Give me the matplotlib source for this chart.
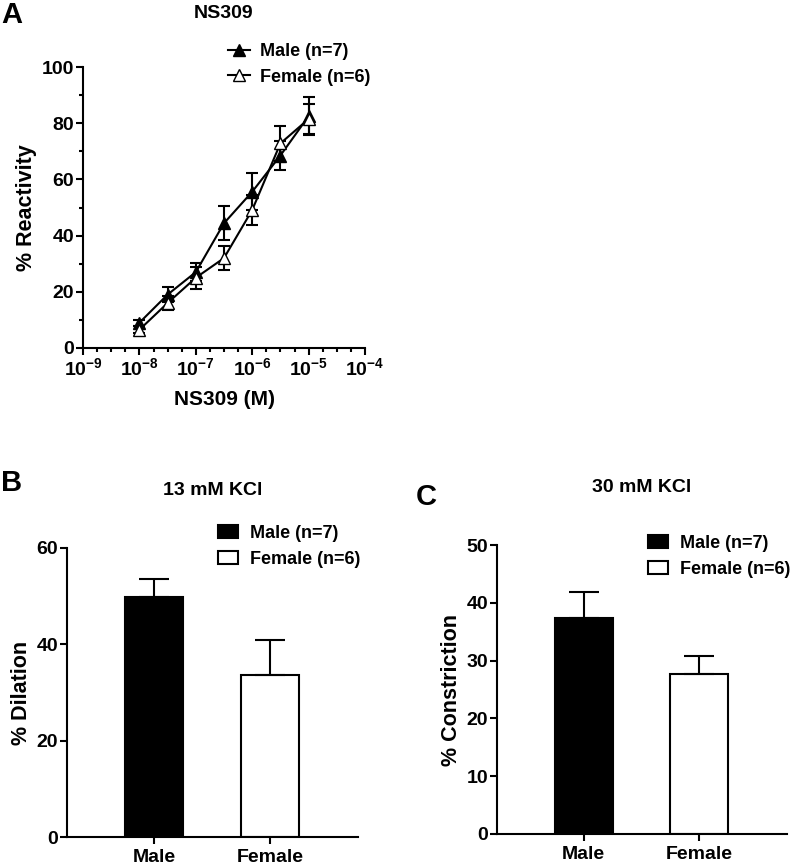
import matplotlib.pyplot as plt
from matplotlib.lines import Line2D
import numpy as np

plt.rcParams['font.family'] = 'Liberation Sans'
plt.rcParams['font.weight'] = 'bold'
plt.rcParams['mathtext.fontset'] = 'custom'
plt.rcParams['mathtext.rm'] = 'Liberation Sans:bold'
plt.rcParams['mathtext.bf'] = 'Liberation Sans:bold'
plt.rcParams['axes.linewidth'] = 1.5

# panel A: concentration-response
conc = [1e-8, 3.16e-8, 1e-7, 3.16e-7, 1e-6, 3.16e-6, 1e-5]
male_resp = [9.0, 19.0, 27.0, 44.4, 55.6, 68.5, 82.5]
male_sem = [1.0, 2.7, 3.3, 6.1, 6.5, 5.3, 6.8]
female_resp = [6.5, 16.0, 25.0, 32.0, 49.1, 72.8, 81.5]
female_sem = [1.2, 2.4, 4.0, 4.4, 5.3, 6.2, 5.5]
xtick_exp = [-9, -8, -7, -6, -5, -4]

# panels B and C
groups = ['Male', 'Female']
dilation = [49.8, 33.7]
dilation_sem = [3.7, 7.1]
constriction = [37.4, 27.7]
constriction_sem = [4.5, 3.1]

W, H = 793, 864
fig = plt.figure(figsize=(W / 100, H / 100), dpi=100)


def px_axes(l, t, r, b):
    return fig.add_axes([l / W, 1 - b / H, (r - l) / W, (b - t) / H])


def fig_xy(x, y):
    return (x / W, 1 - y / H)


def style(ax):
    ax.spines['right'].set_visible(False)
    ax.spines['top'].set_visible(False)
    ax.tick_params(width=1.5, length=5, labelsize=14)
    ax.tick_params(axis='y', pad=1.5)
    for lab in ax.get_yticklabels() + ax.get_xticklabels():
        lab.set_fontweight('bold')


# ---- A ----
axA = px_axes(83, 67, 365, 348)
axA.errorbar(conc, male_resp, yerr=male_sem, color='black', marker='^', markersize=8,
             mfc='black', lw=1.5, capsize=4, capthick=1.5, elinewidth=1.5)
axA.errorbar(conc, female_resp, yerr=female_sem, color='black', marker='^', markersize=8,
             mfc='white', lw=1.5, capsize=4, capthick=1.5, elinewidth=1.5)
axA.set_xscale('log')
axA.set_xlim(1e-9, 1e-4)
axA.set_ylim(0, 100)
axA.set_xticks([10.0 ** e for e in xtick_exp])
axA.set_xticklabels([r'$\mathbf{10^{%d}}$' % e for e in xtick_exp])
minor_x = [10.0 ** (e + f) for e in xtick_exp[:-1] for f in (0.25, 0.5, 0.75)]
axA.set_xticks(minor_x, minor=True)
axA.xaxis.set_minor_formatter(plt.NullFormatter())
axA.set_yticks([0, 20, 40, 60, 80, 100])
axA.set_yticks([10, 30, 50, 70, 90], minor=True)
style(axA)
axA.tick_params(axis='x', labelsize=14, pad=1.5)
axA.tick_params(which='minor', width=1.5, length=3)
axA.set_xlabel('NS309 (M)', fontsize=15, fontweight='bold', labelpad=8)
axA.set_ylabel('% Reactivity', fontsize=15.5, fontweight='bold', labelpad=3)
axA.set_title('NS309', fontsize=14, fontweight='bold', pad=35)
handlesA = [Line2D([], [], color='black', lw=1.5, marker='^', markersize=8, mfc='black'),
            Line2D([], [], color='black', lw=1.5, marker='^', markersize=8, mfc='white')]
axA.legend(handlesA, ['Male (n=7)', 'Female (n=6)'], loc='upper left',
           bbox_to_anchor=fig_xy(228, 43), bbox_transform=fig.transFigure,
           frameon=False, fontsize=13, borderpad=0, borderaxespad=0,
           handlelength=1.2, labelspacing=0.48, handletextpad=0.55)
fig.text(1 / W, 1 - 15 / H, 'A', fontsize=21, fontweight='bold', va='center')


def bar_panel(ax, vals, sems, ylim, yticks, ylabel, title, letter, leg_xy):
    x = np.arange(len(groups))
    ax.bar(x[0], vals[0], width=0.5, color='black', edgecolor='black', lw=1.5, label='Male (n=7)')
    ax.bar(x[1], vals[1], width=0.5, color='white', edgecolor='black', lw=1.5, label='Female (n=6)')
    ax.errorbar(x, vals, yerr=[np.zeros(len(vals)), sems], fmt='none', ecolor='black',
                elinewidth=1.5, capsize=11, capthick=1.5)
    ax.set_xlim(-0.75, 1.76)
    ax.set_ylim(*ylim)
    ax.set_yticks(yticks)
    ax.set_xticks(x)
    ax.set_xticklabels(groups)
    style(ax)
    ax.set_ylabel(ylabel, fontsize=15.5, fontweight='bold', labelpad=3)
    ax.set_title(title, fontsize=14, fontweight='bold', pad=38.5)
    ax.legend(loc='upper left', bbox_to_anchor=fig_xy(*leg_xy), bbox_transform=fig.transFigure,
              frameon=False, fontsize=13, borderpad=0, borderaxespad=0,
              handlelength=1.1, handleheight=0.72, labelspacing=0.5, handletextpad=0.65)
    fig.text(letter[0] / W, 1 - letter[1] / H, letter[2], fontsize=21,
             fontweight='bold', va='center')


axB = px_axes(67, 548, 358, 837)
bar_panel(axB, dilation, dilation_sem, (0, 60), [0, 20, 40, 60], '% Dilation', '13 mM KCl',
          (1, 483, 'B'), (218, 525))

axC = px_axes(497, 545, 787, 834)
bar_panel(axC, constriction, constriction_sem, (0, 50), [0, 10, 20, 30, 40, 50],
          '% Constriction', '30 mM KCl', (416, 497, 'C'), (648, 535))

fig.savefig('out.png', dpi=100)
